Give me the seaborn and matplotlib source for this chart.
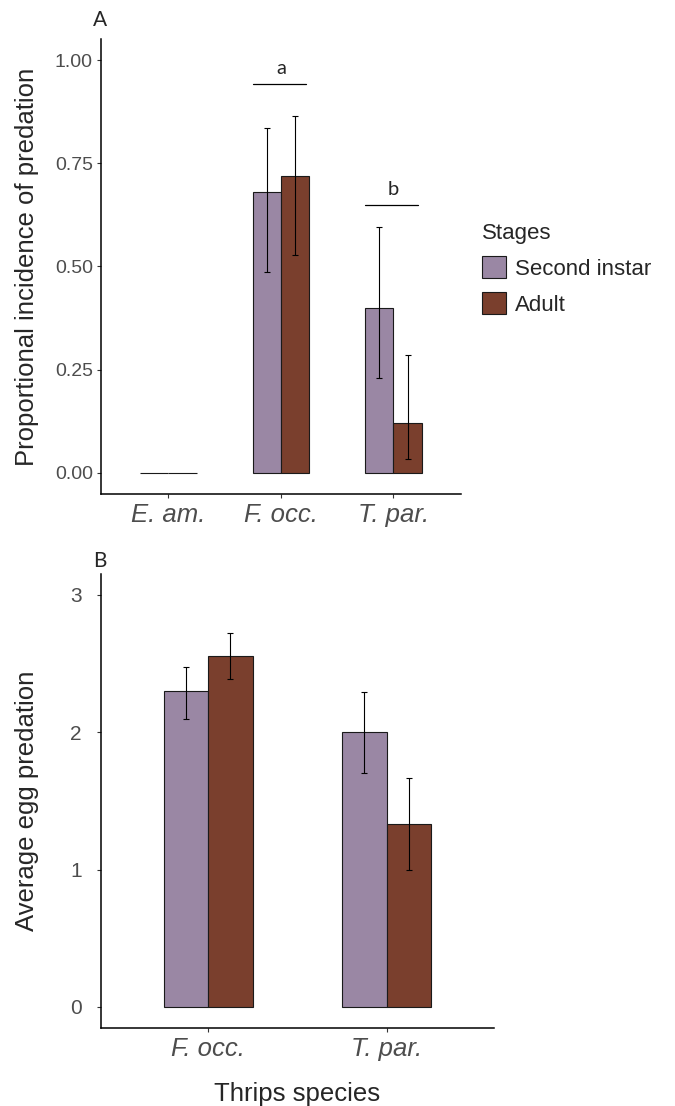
import numpy as np
import pandas as pd
import matplotlib
matplotlib.use("Agg")
import matplotlib.pyplot as plt
import seaborn as sns

# panel A: proportional incidence of predation
species_a = ["E. am.", "F. occ.", "T. par."]
stages = ["Second instar", "Adult"]
incid_second = [0.0, 0.68, 0.40]
incid_adult = [0.0, 0.718, 0.122]
incid_second_lo = [np.nan, 0.487, 0.229]
incid_second_hi = [np.nan, 0.835, 0.596]
incid_adult_lo = [np.nan, 0.528, 0.033]
incid_adult_hi = [np.nan, 0.865, 0.286]
sig_letters = ["", "a", "b"]
sig_heights = [np.nan, 0.943, 0.65]

# panel B: average egg predation
species_b = ["F. occ.", "T. par."]
egg_second = [2.30, 2.00]
egg_adult = [2.557, 1.333]
egg_second_lo = [2.10, 1.70]
egg_second_hi = [2.478, 2.296]
egg_adult_lo = [2.385, 1.00]
egg_adult_hi = [2.72, 1.665]

purple = "#9A87A4"
brown = "#7A3F2D"
pal = {"Second instar": purple, "Adult": brown}
tick_grey = "#4D4D4D"

sns.set_style("white")
plt.rcParams["font.family"] = ["Liberation Sans", "DejaVu Sans"]

dfA = pd.DataFrame({
    "species": species_a * 2,
    "stage": [stages[0]] * 3 + [stages[1]] * 3,
    "value": incid_second + incid_adult,
})
dfB = pd.DataFrame({
    "species": species_b * 2,
    "stage": [stages[0]] * 2 + [stages[1]] * 2,
    "value": egg_second + egg_adult,
})

fig = plt.figure(figsize=(6.75, 11.06), dpi=100)
axA = fig.add_axes([0.1496, 0.5537, 0.5333, 0.4107])
axB = fig.add_axes([0.1496, 0.0709, 0.5822, 0.4098])


def draw(ax, df, lows, highs, order):
    sns.barplot(data=df, x="species", y="value", hue="stage", order=order,
                hue_order=stages, palette=pal, width=0.5, errorbar=None,
                edgecolor="#1a1a1a", linewidth=0.8, saturation=1, ax=ax)
    for cont, lo, hi in zip(ax.containers, lows, highs):
        xs = [p.get_x() + p.get_width() / 2 for p in cont.patches]
        lo = np.array(lo)
        hi = np.array(hi)
        mid = (lo + hi) / 2
        ax.errorbar(xs, mid, yerr=[mid - lo, hi - mid], fmt="none",
                    ecolor="black", elinewidth=0.8, capsize=2.4,
                    capthick=0.8, zorder=5)
    ax.get_legend().remove()
    sns.despine(ax=ax)
    for s in ["left", "bottom"]:
        ax.spines[s].set_color("black")
        ax.spines[s].set_linewidth(1.1)
    ax.tick_params(axis="both", bottom=True, left=True, colors="#333333",
                   length=2.75, width=0.8, labelcolor=tick_grey)
    ax.tick_params(axis="y", labelsize=14, pad=3)
    ax.tick_params(axis="x", labelsize=18.5, pad=4)
    for t in ax.get_xticklabels():
        t.set_fontstyle("italic")
    ax.set_xlabel("")
    ax.set_ylabel("")


draw(axA, dfA, [incid_second_lo, incid_adult_lo],
     [incid_second_hi, incid_adult_hi], species_a)
axA.set_xlim(-0.6, 2.6)
axA.set_ylim(-0.05, 1.05)
axA.set_yticks([0, 0.25, 0.5, 0.75, 1.0])
axA.set_yticklabels(["0.00", "0.25", "0.50", "0.75", "1.00"])

# significance letters over groups
for i, (letter, h) in enumerate(zip(sig_letters, sig_heights)):
    if not letter:
        continue
    x0 = axA.containers[0].patches[i].get_x()
    p1 = axA.containers[1].patches[i]
    x1 = p1.get_x() + p1.get_width()
    axA.plot([x0, x1 - 0.03], [h, h], color="black", lw=0.9)
    axA.annotate(letter, ((x0 + x1) / 2, h), xytext=(0, 5),
                 textcoords="offset points", ha="center", va="bottom",
                 fontsize=14.5, family=["Lato", "DejaVu Sans"])

draw(axB, dfB, [egg_second_lo, egg_adult_lo],
     [egg_second_hi, egg_adult_hi], species_b)
axB.set_xlim(-0.6, 1.6)
axB.set_ylim(-0.15, 3.15)
axB.set_yticks([0, 1, 2, 3])
axB.tick_params(axis="y", labelsize=15, pad=11)

fig.text(27 / 675, 0.759, "Proportional incidence of predation",
         rotation=90, ha="center", va="center", fontsize=18.5)
fig.text(27 / 675, 0.2758, "Average egg predation",
         rotation=90, ha="center", va="center", fontsize=18.5)
fig.text(297 / 675, 1 - 1094 / 1106, "Thrips species",
         ha="center", va="center", fontsize=18.5)
fig.text(100 / 675, 1 - 20 / 1106, "A", ha="center", va="center",
         fontsize=15, family=["Lato", "DejaVu Sans"])
fig.text(100 / 675, 1 - 561 / 1106, "B", ha="center", va="center",
         fontsize=15, family=["Lato", "DejaVu Sans"])

handles = [plt.Rectangle((0, 0), 1, 1, facecolor=pal[s], edgecolor="#1a1a1a",
                         linewidth=0.8) for s in stages]
leg = fig.legend(handles, stages, title="Stages", loc="upper left",
                 bbox_to_anchor=(482 / 675, 1 - 223 / 1106),
                 bbox_transform=fig.transFigure, frameon=False,
                 fontsize=16, title_fontsize=16, handlelength=1.1,
                 handleheight=1.15, handletextpad=0.4, labelspacing=0.55,
                 borderpad=0, borderaxespad=0)
leg._legend_box.align = "left"

fig.savefig("out.png", dpi=100)
